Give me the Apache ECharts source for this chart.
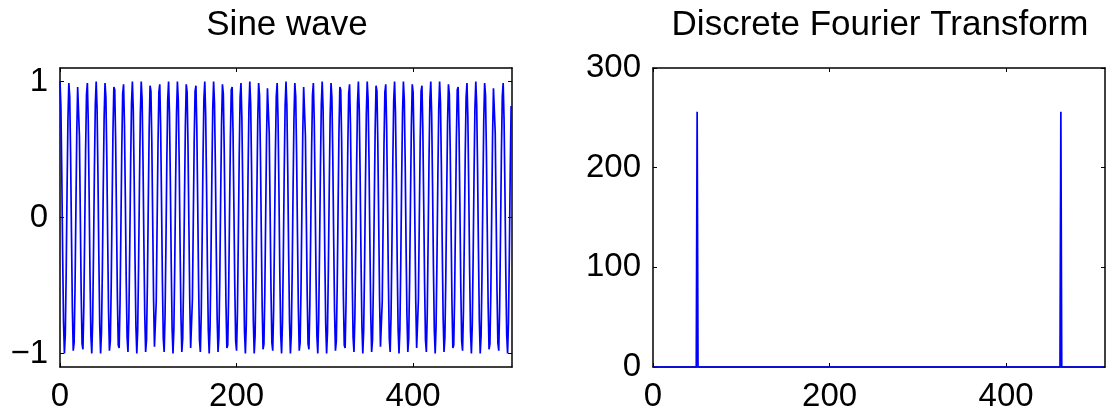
<!DOCTYPE html>
<html><head><meta charset="utf-8">
<script src="https://cdn.jsdelivr.net/npm/echarts@6/dist/echarts.min.js"></script>
<style>html,body{margin:0;padding:0;background:#fff}#c{width:1107px;height:418px}</style>
</head><body><div id="c"></div>
<script>
const sineTitle = 'Sine wave';
const dftTitle = 'Discrete Fourier Transform';
// sampled sine wave, sample index 0..511
const sineValues = [
1.00,0.82,0.34,-0.27,-0.77,-1.00,-0.86,-0.41,0.20,0.72,0.99,0.89,0.47,-0.12,-0.67,-0.98,
-0.92,-0.53,0.05,0.62,0.96,0.95,0.60,0.02,-0.56,-0.93,-0.97,-0.65,-0.10,0.49,0.90,0.99,
0.71,0.17,-0.43,-0.87,-1.00,-0.76,-0.24,0.36,0.83,1.00,0.80,0.31,-0.29,-0.79,-1.00,-0.84,
-0.38,0.22,0.74,0.99,0.88,0.45,-0.15,-0.69,-0.98,-0.91,-0.51,0.07,0.63,0.96,0.94,0.58,
0.00,-0.58,-0.94,-0.96,-0.63,-0.07,0.51,0.91,0.98,0.69,0.15,-0.45,-0.88,-0.99,-0.74,-0.22,
0.38,0.84,1.00,0.79,0.29,-0.31,-0.80,-1.00,-0.83,-0.36,0.24,0.76,1.00,0.87,0.43,-0.17,
-0.71,-0.99,-0.90,-0.49,0.10,0.65,0.97,0.93,0.56,-0.02,-0.60,-0.95,-0.96,-0.62,-0.05,0.53,
0.92,0.98,0.67,0.12,-0.47,-0.89,-0.99,-0.72,-0.20,0.41,0.86,1.00,0.77,0.27,-0.34,-0.82,
-1.00,-0.82,-0.34,0.27,0.77,1.00,0.86,0.41,-0.20,-0.72,-0.99,-0.89,-0.47,0.12,0.67,0.98,
0.92,0.53,-0.05,-0.62,-0.96,-0.95,-0.60,-0.02,0.56,0.93,0.97,0.65,0.10,-0.49,-0.90,-0.99,
-0.71,-0.17,0.43,0.87,1.00,0.76,0.24,-0.36,-0.83,-1.00,-0.80,-0.31,0.29,0.79,1.00,0.84,
0.38,-0.22,-0.74,-0.99,-0.88,-0.45,0.15,0.69,0.98,0.91,0.51,-0.07,-0.63,-0.96,-0.94,-0.58,
0.00,0.58,0.94,0.96,0.63,0.07,-0.51,-0.91,-0.98,-0.69,-0.15,0.45,0.88,0.99,0.74,0.22,
-0.38,-0.84,-1.00,-0.79,-0.29,0.31,0.80,1.00,0.83,0.36,-0.24,-0.76,-1.00,-0.87,-0.43,0.17,
0.71,0.99,0.90,0.49,-0.10,-0.65,-0.97,-0.93,-0.56,0.02,0.60,0.95,0.96,0.62,0.05,-0.53,
-0.92,-0.98,-0.67,-0.12,0.47,0.89,0.99,0.72,0.20,-0.41,-0.86,-1.00,-0.77,-0.27,0.34,0.82,
1.00,0.82,0.34,-0.27,-0.77,-1.00,-0.86,-0.41,0.20,0.72,0.99,0.89,0.47,-0.12,-0.67,-0.98,
-0.92,-0.53,0.05,0.62,0.96,0.95,0.60,0.02,-0.56,-0.93,-0.97,-0.65,-0.10,0.49,0.90,0.99,
0.71,0.17,-0.43,-0.87,-1.00,-0.76,-0.24,0.36,0.83,1.00,0.80,0.31,-0.29,-0.79,-1.00,-0.84,
-0.38,0.22,0.74,0.99,0.88,0.45,-0.15,-0.69,-0.98,-0.91,-0.51,0.07,0.63,0.96,0.94,0.58,
0.00,-0.58,-0.94,-0.96,-0.63,-0.07,0.51,0.91,0.98,0.69,0.15,-0.45,-0.88,-0.99,-0.74,-0.22,
0.38,0.84,1.00,0.79,0.29,-0.31,-0.80,-1.00,-0.83,-0.36,0.24,0.76,1.00,0.87,0.43,-0.17,
-0.71,-0.99,-0.90,-0.49,0.10,0.65,0.97,0.93,0.56,-0.02,-0.60,-0.95,-0.96,-0.62,-0.05,0.53,
0.92,0.98,0.67,0.12,-0.47,-0.89,-0.99,-0.72,-0.20,0.41,0.86,1.00,0.77,0.27,-0.34,-0.82,
-1.00,-0.82,-0.34,0.27,0.77,1.00,0.86,0.41,-0.20,-0.72,-0.99,-0.89,-0.47,0.12,0.67,0.98,
0.92,0.53,-0.05,-0.62,-0.96,-0.95,-0.60,-0.02,0.56,0.93,0.97,0.65,0.10,-0.49,-0.90,-0.99,
-0.71,-0.17,0.43,0.87,1.00,0.76,0.24,-0.36,-0.83,-1.00,-0.80,-0.31,0.29,0.79,1.00,0.84,
0.38,-0.22,-0.74,-0.99,-0.88,-0.45,0.15,0.69,0.98,0.91,0.51,-0.07,-0.63,-0.96,-0.94,-0.58,
0.00,0.58,0.94,0.96,0.63,0.07,-0.51,-0.91,-0.98,-0.69,-0.15,0.45,0.88,0.99,0.74,0.22,
-0.38,-0.84,-1.00,-0.79,-0.29,0.31,0.80,1.00,0.83,0.36,-0.24,-0.76,-1.00,-0.87,-0.43,0.17,
0.71,0.99,0.90,0.49,-0.10,-0.65,-0.97,-0.93,-0.56,0.02,0.60,0.95,0.96,0.62,0.05,-0.53,
-0.92,-0.98,-0.67,-0.12,0.47,0.89,0.99,0.72,0.20,-0.41,-0.86,-1.00,-0.77,-0.27,0.34,0.82
];
// DFT magnitude: non-zero only at bins 50 and 462
const dftIndex = [0, 49, 50, 51, 461, 462, 463, 511];
const dftMagnitude = [0, 0, 256, 0, 0, 256, 0, 0];
const xTicks = [0, 200, 400];
const sineYTicks = [-1, 0, 1];
const dftYTicks = [0, 100, 200, 300];

const FONT = "'Liberation Sans', Arial, Helvetica, sans-serif";
const BLUE = '#0000ff';
const fmt = v => (v < 0 ? '\u2212' + Math.abs(v) : String(v));

function xAx(grid, ticks, shown, pos) {
  return {
    type: 'value', gridIndex: grid, min: 0, max: 512, position: pos,
    splitLine: { show: false },
    axisLine: { show: true, onZero: false, lineStyle: { color: '#000', width: 1.5 } },
    axisTick: { show: true, inside: true, length: 4, customValues: ticks, lineStyle: { color: '#000', width: 1 } },
    axisLabel: { show: shown, customValues: ticks, margin: 13, color: '#000', fontSize: 33, fontFamily: FONT, formatter: fmt }
  };
}
function yAx(grid, min, max, ticks, shown, pos) {
  return {
    type: 'value', gridIndex: grid, min: min, max: max, position: pos,
    splitLine: { show: false },
    axisLine: { show: true, onZero: false, lineStyle: { color: '#000', width: 1.5 } },
    axisTick: { show: true, inside: true, length: 4, customValues: ticks, lineStyle: { color: '#000', width: 1 } },
    axisLabel: { show: shown, customValues: ticks, margin: 12, color: '#000', fontSize: 33, fontFamily: FONT, formatter: fmt }
  };
}

const chart = echarts.init(document.getElementById('c'), null, { renderer: 'canvas' });
chart.setOption({
  animation: false,
  backgroundColor: '#fff',
  title: [
    { text: sineTitle, left: 287, top: 8, textAlign: 'center', padding: 0,
      textStyle: { fontSize: 35, fontWeight: 'normal', color: '#000', fontFamily: FONT } },
    { text: dftTitle, left: 880, top: 8, textAlign: 'center', padding: 0,
      textStyle: { fontSize: 35, fontWeight: 'normal', color: '#000', fontFamily: FONT } }
  ],
  grid: [
    { left: 60, right: 595, top: 68, bottom: 51, containLabel: false },
    { left: 653, right: 2, top: 68, bottom: 51, containLabel: false }
  ],
  xAxis: [
    xAx(0, xTicks, true, 'bottom'),
    xAx(0, xTicks, false, 'top'),
    xAx(1, xTicks, true, 'bottom'),
    xAx(1, xTicks, false, 'top')
  ],
  yAxis: [
    yAx(0, -1.1, 1.1, sineYTicks, true, 'left'),
    yAx(0, -1.1, 1.1, sineYTicks, false, 'right'),
    yAx(1, 0, 300, dftYTicks, true, 'left'),
    yAx(1, 0, 300, dftYTicks, false, 'right')
  ],
  series: [
    { type: 'line', xAxisIndex: 0, yAxisIndex: 0, showSymbol: false, symbol: 'none',
      lineStyle: { color: BLUE, width: 1.7 }, clip: true,
      data: sineValues.map((v, i) => [i, v]) },
    { type: 'line', xAxisIndex: 2, yAxisIndex: 2, showSymbol: false, symbol: 'none',
      lineStyle: { color: BLUE, width: 1.7 }, clip: false,
      data: dftIndex.map((x, i) => [x, dftMagnitude[i]]) }
  ]
});
</script></body></html>
